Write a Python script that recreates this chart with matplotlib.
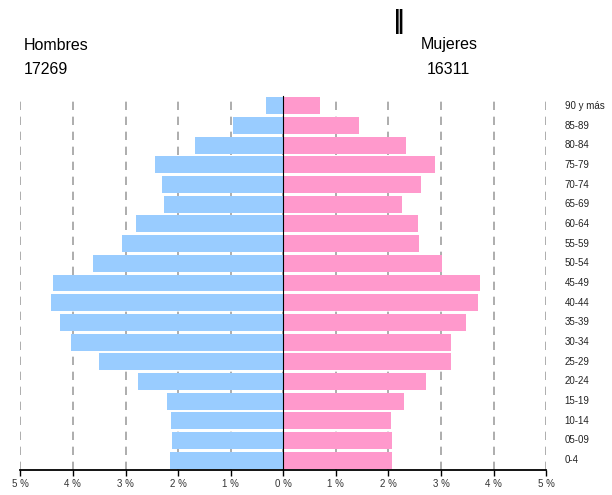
import matplotlib.pyplot as plt
from matplotlib.transforms import blended_transform_factory

plt.rcParams['font.family'] = ['Liberation Sans', 'DejaVu Sans']

# age groups, bottom to top
edades = ['0-4', '05-09', '10-14', '15-19', '20-24', '25-29', '30-34', '35-39',
          '40-44', '45-49', '50-54', '55-59', '60-64', '65-69', '70-74', '75-79',
          '80-84', '85-89', '90 y más']
# percentage of total population
hombres = [2.15, 2.11, 2.13, 2.21, 2.76, 3.50, 4.04, 4.24, 4.42, 4.38,
           3.62, 3.07, 2.80, 2.27, 2.31, 2.44, 1.68, 0.96, 0.33]
mujeres = [2.07, 2.07, 2.05, 2.29, 2.71, 3.19, 3.19, 3.47, 3.70, 3.74,
           3.01, 2.58, 2.56, 2.26, 2.62, 2.88, 2.33, 1.44, 0.70]
ticks = [-5, -4, -3, -2, -1, 0, 1, 2, 3, 4, 5]
tick_labels = ['5 %', '4 %', '3 %', '2 %', '1 %', '0 %', '1 %', '2 %', '3 %', '4 %', '5 %']
total_h = '17269'
total_m = '16311'

fig = plt.figure(figsize=(6.12, 4.95), dpi=100)
ax = fig.add_axes([0.0332, 0.0505, 0.8594, 0.7556])

y = list(range(len(edades)))
ax.barh(y, [-v for v in hombres], height=0.86, color='#99CCFF', zorder=2)
ax.barh(y, mujeres, height=0.86, color='#FF99CC', zorder=2)

for t in ticks:
    ax.axvline(t, color='#a0a0a0', lw=1.2, ls=(0, (5, 4)), zorder=1)

ax.set_xlim(-5, 5)
ax.set_ylim(-0.5, len(edades) - 0.5)
ax.set_xticks(ticks)
ax.set_xticklabels(tick_labels, fontsize=7, color='#333333')
ax.tick_params(axis='x', length=4, width=1, direction='out', pad=2.5)
ax.spines['bottom'].set_linewidth(1.3)

# centre axis at 0 with small ticks
ax.spines['left'].set_position(('data', 0))
ax.spines['left'].set_zorder(3)
ax.spines['right'].set_visible(False)
ax.spines['top'].set_visible(False)
ax.set_yticks(y)
ax.set_yticklabels([])
ax.tick_params(axis='y', length=2, width=1, direction='inout')

tr = blended_transform_factory(ax.transAxes, ax.transData)
for i, lab in enumerate(edades):
    ax.text(1.035, i, lab, transform=tr, fontsize=7, color='#222222',
            ha='left', va='center')

fig.text(24 / 612, 1 - 45 / 495, 'Hombres', fontsize=11.5, ha='left', va='center')
fig.text(24 / 612, 1 - 69 / 495, total_h, fontsize=11.5, ha='left', va='center')
fig.text(449 / 612, 1 - 45 / 495, 'Mujeres', fontsize=11.5, ha='center', va='center')
fig.text(448 / 612, 1 - 69 / 495, total_m, fontsize=11.5, ha='center', va='center')
fig.text(399 / 612, 1 - 22 / 495, '‖', fontsize=17, fontweight='bold',
         family='DejaVu Sans', ha='center', va='center')

fig.savefig('out.png', dpi=100)
